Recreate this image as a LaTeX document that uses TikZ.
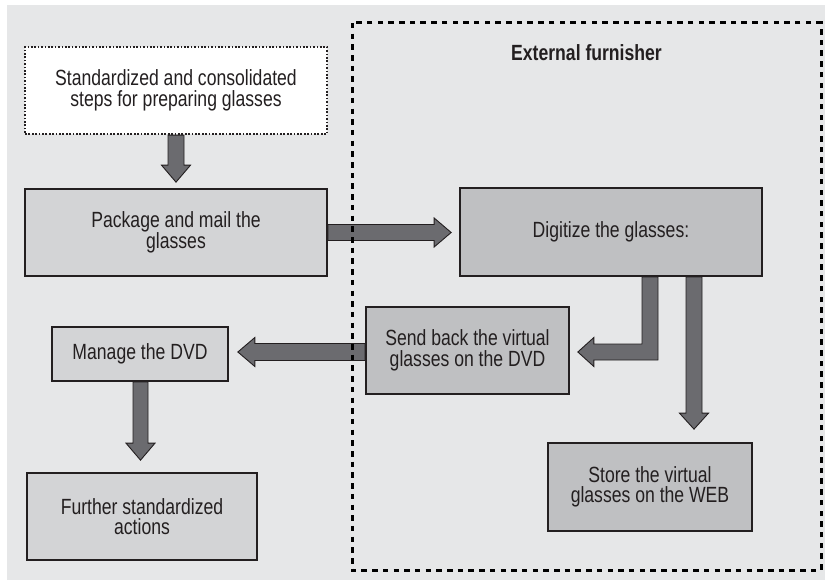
\documentclass[tikz,border=0pt]{standalone}
\usepackage{fontspec}
\setmainfont{Liberation Sans}[FakeStretch=0.8]
\usetikzlibrary{calc}
\pgfdeclarelayer{bg}
\pgfdeclarelayer{arrows}
\pgfsetlayers{bg,arrows,main}

\definecolor{panel}{HTML}{E6E7E8}
\definecolor{boxlight}{HTML}{D3D4D6}
\definecolor{boxdark}{HTML}{BFC0C2}
\definecolor{arrowfill}{HTML}{6B6B6F}
\definecolor{inkdark}{HTML}{231F20}

\tikzset{
  box/.style={draw=inkdark, line width=1.7pt, align=center, inner sep=4pt,
    font=\fontsize{22}{20.6}\selectfont, text=inkdark},
  lightbox/.style={box, fill=boxlight},
  darkbox/.style={box, fill=boxdark},
  dotbox/.style={box, fill=white, line width=2.2pt, dash pattern=on 1.7pt off 1.7pt},
  fatarrow/.style={fill=arrowfill, draw=inkdark, line width=0.9pt, line join=miter},
  frame/.style={draw=black, line width=3pt, dash pattern=on 5.5pt off 5.2pt}
}

\begin{document}
\begin{tikzpicture}[x=1pt,y=-1pt]
\useasboundingbox (0,0) rectangle (825,583);

\begin{pgfonlayer}{bg}
  \fill[panel] (7,5) rectangle (825,580);
\end{pgfonlayer}

% process steps
\node[dotbox, minimum width=302pt, minimum height=87pt] (std) at (176,90.5)
  {Standardized and consolidated\\steps for preparing glasses};
\node[lightbox, minimum width=302pt, minimum height=87pt] (pkg) at (176,232.5)
  {Package and mail the\\glasses};
\node[darkbox, minimum width=302pt, minimum height=88pt] (dig) at (611,232)
  {Digitize the glasses:};
\node[darkbox, minimum width=203pt, minimum height=87pt] (send) at (467.5,350.5)
  {Send back the virtual\\glasses on the DVD};
\node[lightbox, minimum width=176pt, minimum height=54pt] (manage) at (140,354)
  {Manage the DVD};
\node[lightbox, minimum width=230pt, minimum height=87pt] (further) at (142,516.5)
  {Further standardized\\actions};
\node[darkbox, minimum width=204pt, minimum height=88pt] (store) at (650,487)
  {Store the virtual\\glasses on the WEB};

% external furnisher region
\draw[frame] (352,23) rectangle (821,570);
\node[anchor=base, font=\fontsize{22}{22}\bfseries, text=inkdark, inner sep=0pt] (ext) at (586.5,61)
  {External furnisher};

% connecting block arrows
\begin{pgfonlayer}{arrows}
  % standardized steps -> package
  \draw[fatarrow] ($(std.south)+(-8,0)$) -- ($(pkg.north)+(-8,-23)$)
    -- ($(pkg.north)+(-14.5,-23)$) -- ($(pkg.north)+(0,-6)$)
    -- ($(pkg.north)+(14.5,-23)$) -- ($(pkg.north)+(8,-23)$)
    -- ($(std.south)+(8,0)$) -- cycle;
  % package -> digitize
  \coordinate (a2) at (dig.west |- pkg.east);
  \draw[fatarrow] ($(pkg.east)+(0,-8)$) -- ($(a2)+(-25,-8)$)
    -- ($(a2)+(-25,-14.5)$) -- ($(a2)+(-8,0)$)
    -- ($(a2)+(-25,14.5)$) -- ($(a2)+(-25,8)$)
    -- ($(pkg.east)+(0,8)$) -- cycle;
  % digitize -> send back (bent)
  \coordinate (d1) at ($(dig.south)+(39,0)$);
  \coordinate (s1) at ($(send.east)+(0,1.5)$);
  \coordinate (k1) at (d1 |- s1);
  \draw[fatarrow] ($(d1)+(-8,0)$) -- ($(k1)+(-8,-8)$)
    -- ($(s1)+(24,-8)$) -- ($(s1)+(24,-14.5)$) -- ($(s1)+(8,0)$)
    -- ($(s1)+(24,14.5)$) -- ($(s1)+(24,8)$)
    -- ($(k1)+(8,8)$) -- ($(d1)+(8,0)$) -- cycle;
  % digitize -> store
  \coordinate (d2) at ($(dig.south)+(83,0)$);
  \coordinate (t2) at (d2 |- store.north);
  \draw[fatarrow] ($(d2)+(-8,0)$) -- ($(t2)+(-8,-29)$)
    -- ($(t2)+(-14.5,-29)$) -- ($(t2)+(0,-13)$)
    -- ($(t2)+(14.5,-29)$) -- ($(t2)+(8,-29)$)
    -- ($(d2)+(8,0)$) -- cycle;
  % send back -> manage
  \coordinate (s2) at ($(send.west)+(0,1.5)$);
  \coordinate (m2) at (manage.east |- s2);
  \draw[fatarrow] ($(s2)+(0,-8.5)$) -- ($(m2)+(26,-8.5)$)
    -- ($(m2)+(26,-14.5)$) -- ($(m2)+(9,0)$)
    -- ($(m2)+(26,14.5)$) -- ($(m2)+(26,8.5)$)
    -- ($(s2)+(0,8.5)$) -- cycle;
  % manage -> further
  \coordinate (m3) at ($(manage.south)+(0.5,0)$);
  \coordinate (t3) at (m3 |- further.north);
  \draw[fatarrow] ($(m3)+(-7.5,0)$) -- ($(t3)+(-7.5,-29)$)
    -- ($(t3)+(-14.5,-29)$) -- ($(t3)+(0,-12)$)
    -- ($(t3)+(14.5,-29)$) -- ($(t3)+(7.5,-29)$)
    -- ($(m3)+(7.5,0)$) -- cycle;
\end{pgfonlayer}
\end{tikzpicture}
\end{document}
